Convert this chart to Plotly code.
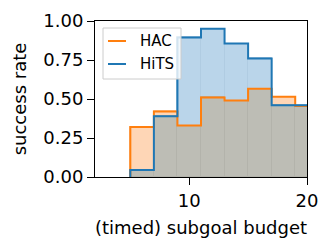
import plotly.graph_objects as go

# data
budget = [6, 8, 10, 12, 14, 16, 18, 20]   # bin centres, bin width 2
bin_width = 2
hac = [0.32, 0.42, 0.33, 0.51, 0.49, 0.565, 0.515, 0.455]
hits = [0.045, 0.39, 0.895, 0.95, 0.855, 0.76, 0.46, 0.46]
y_ticks = [0.0, 0.25, 0.5, 0.75, 1.0]
x_ticks = [10, 20]
series_names = ["HAC", "HiTS"]

HAC_LINE = "#ff7f0e"
HITS_LINE = "#1f77b4"
HAC_FILL = "#fed6b6"
HITS_FILL = "#bad5ea"
BOTH_FILL = "#bdbdb5"
FONT = "DejaVu Sans"


def step(vals):
    edges = [c - bin_width / 2 for c in budget] + [budget[-1] + bin_width / 2]
    xs = [edges[0]] + edges
    ys = [0] + list(vals) + [vals[-1]]
    return xs, ys


fig = go.Figure()

overlap = [min(a, b) for a, b in zip(hac, hits)]
for vals, fc, ec in [(hits, HITS_FILL, "#b0cce2"), (hac, HAC_FILL, "#f6ccab"),
                     (overlap, BOTH_FILL, "#b3b3ab")]:
    fig.add_trace(go.Bar(x=budget, y=vals, width=bin_width,
                         marker=dict(color=fc, line=dict(color=ec, width=1)),
                         showlegend=False, hoverinfo="skip"))

for name, vals, lc in [(series_names[0], hac, HAC_LINE),
                       (series_names[1], hits, HITS_LINE)]:
    xs, ys = step(vals)
    fig.add_trace(go.Scatter(x=xs, y=ys, mode="lines", line_shape="hv",
                             line=dict(color=lc, width=2), name=name,
                             showlegend=False))

axis_common = dict(showline=True, linecolor="black", linewidth=1, mirror=True,
                   ticks="outside", ticklen=7, tickwidth=1, tickcolor="black",
                   showgrid=False, zeroline=False, automargin=False,
                   tickfont=dict(family=FONT, size=18, color="black"))

fig.update_xaxes(range=[2, 20], tickvals=x_ticks,
                 title=dict(text="(timed) subgoal budget", standoff=11,
                            font=dict(family=FONT, size=18, color="black")),
                 **axis_common)
fig.update_yaxes(range=[0, 1], tickvals=y_ticks, tickformat=".2f",
                 title=dict(text="success rate", standoff=12,
                            font=dict(family=FONT, size=18, color="black")),
                 **axis_common)

# legend drawn manually (matplotlib-like compact legend)
W, H = 212.0, 156.0  # plot area size in px


def px(xp):
    return xp / W


def py(yp):
    return 1 - yp / H


shapes = [dict(type="rect", xref="paper", yref="paper",
               x0=px(8), x1=px(86), y0=py(58), y1=py(7),
               fillcolor="rgba(255,255,255,0.8)", line=dict(color="#cccccc", width=1),
               layer="above")]
annotations = []
for i, (name, lc) in enumerate(zip(series_names, [HAC_LINE, HITS_LINE])):
    yy = 20 + i * 23
    shapes.append(dict(type="line", xref="paper", yref="paper",
                       x0=px(13), x1=px(31), y0=py(yy), y1=py(yy),
                       line=dict(color=lc, width=2), layer="above"))
    annotations.append(dict(text=name, xref="paper", yref="paper",
                            x=px(43), y=py(yy), xanchor="left", yanchor="middle",
                            showarrow=False,
                            font=dict(family=FONT, size=15, color="black")))

# page body has an 8px default margin, so the figure is 8px smaller
fig.update_layout(
    width=325, height=242,
    margin=dict(l=87, r=26, t=13, b=73),
    plot_bgcolor="white", paper_bgcolor="white",
    barmode="overlay", bargap=0,
    font=dict(family=FONT, size=18, color="black"),
    showlegend=False,
    shapes=shapes, annotations=annotations,
)

fig.write_html("out.html")
